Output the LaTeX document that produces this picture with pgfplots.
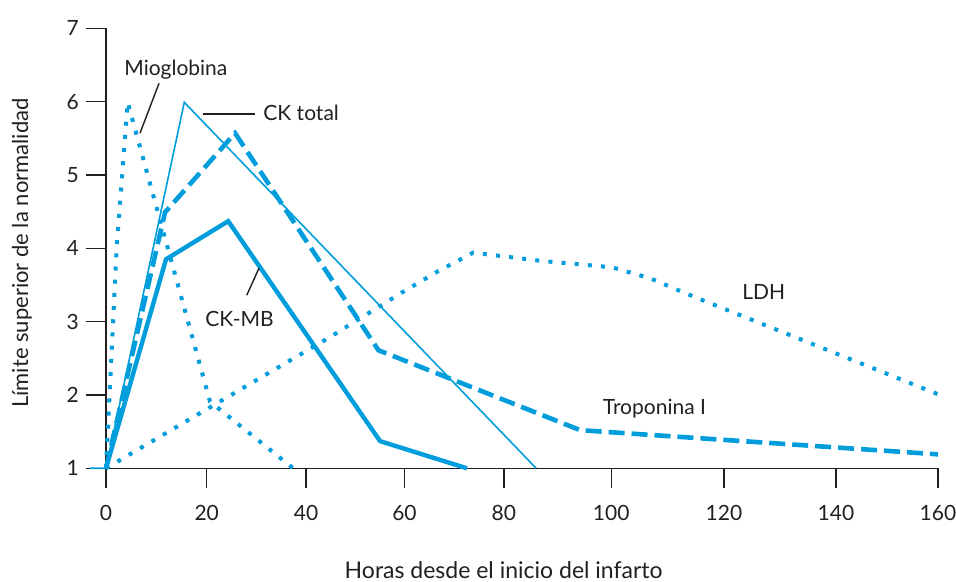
\documentclass[border=0pt]{standalone}
\usepackage{fontspec}
\setmainfont{Lato}
\usepackage{pgfplots}
\pgfplotsset{compat=1.18}
\definecolor{cblue}{RGB}{0,157,220}
\definecolor{ink}{RGB}{35,31,32}
\begin{document}
\begin{tikzpicture}
\begin{axis}[
  name=ax,
  scale only axis, width=416pt, height=220pt,
  xmin=0, xmax=160, ymin=1, ymax=7,
  clip=false,
  axis x line*=bottom, axis y line*=left,
  axis line style={ink, line width=0.65pt},
  every tick/.style={ink, line width=0.65pt},
  tick align=outside, major tick length=10pt,
  xtick={0,19.37,38.48,57.39,76.51,97.15,118.83,140.38,160},
  xticklabels={0,20,40,60,80,100,120,140,160},
  ytick={1,2,3,4,5,6,7},
  /pgf/number format/assume math mode=true,
  tick label style={font=\fontsize{10.5}{12}\selectfont, text=ink},
  xticklabel style={yshift=-5pt},
  xlabel={Horas desde el inicio del infarto},
  ylabel={Límite superior de la normalidad},
  xlabel style={at={(axis description cs:0.478,-0.2516)}, anchor=base, font=\fontsize{11.5}{13}\selectfont, text=ink},
  ylabel style={at={(axis description cs:-0.101,0.489)}, anchor=center, font=\fontsize{11}{13}\selectfont, text=ink},
]
% CK total (thin solid)
\addplot[cblue, line width=0.8pt, line join=miter] coordinates {(-3.08,1) (0,1) (15.06,5.99) (82.72,1)};
% Mioglobina (dotted)
\addplot[cblue, line width=2pt, dash pattern=on 2pt off 4.6pt] coordinates {(0,1) (2.06,4.02) (4.17,5.99) (20.0,1.91) (35.98,1)};
% Troponina I (dashed)
\addplot[cblue, line width=2.3pt, dash pattern=on 8pt off 3.5pt] coordinates {(0,1) (11.35,4.49) (24.82,5.57) (52.39,2.61) (91.19,1.52) (160,1.19)};
% CK-MB (thick solid)
\addplot[cblue, line width=2.2pt, line join=miter] coordinates {(0,1) (11.54,3.85) (23.5,4.37) (52.71,1.37) (69.4,1)};
% LDH (dotted)
\addplot[cblue, line width=2pt, dash pattern=on 2pt off 4.6pt] coordinates {(0,1) (43.09,2.79) (56.75,3.39) (63.68,3.68) (70.6,3.94) (83.49,3.83) (97.35,3.74) (104.66,3.59) (112.35,3.36) (160,2.01)};
% annotations
\node[anchor=base west, inner sep=0pt, text=ink, font=\fontsize{10.5}{12}\selectfont] at (axis cs:3.46,6.36) {Mioglobina};
\draw[ink, line width=0.7pt] (axis cs:10.2,6.25) -- (axis cs:6.54,5.57);
\node[anchor=base west, inner sep=0pt, text=ink, font=\fontsize{10.5}{12}\selectfont] at (axis cs:30.2,5.74) {CK total};
\draw[ink, line width=0.7pt] (axis cs:18.72,5.83) -- (axis cs:28.66,5.83);
\node[anchor=base west, inner sep=0pt, text=ink, font=\fontsize{10.5}{12}\selectfont] at (axis cs:19.05,2.94) {CK-MB};
\draw[ink, line width=0.7pt] (axis cs:29.43,3.73) -- (axis cs:27.07,3.36);
\node[anchor=base west, inner sep=0pt, text=ink, font=\fontsize{10.5}{12}\selectfont] at (axis cs:122.3,3.30) {LDH};
\node[anchor=base west, inner sep=0pt, text=ink, font=\fontsize{10.5}{12}\selectfont] at (axis cs:95.48,1.74) {Troponina I};
\end{axis}
\pgfresetboundingbox
\path[use as bounding box] ([shift={(-53pt,-56.85pt)}]ax.south west) rectangle ([shift={(9pt,14.15pt)}]ax.north east);
\end{tikzpicture}
\end{document}
